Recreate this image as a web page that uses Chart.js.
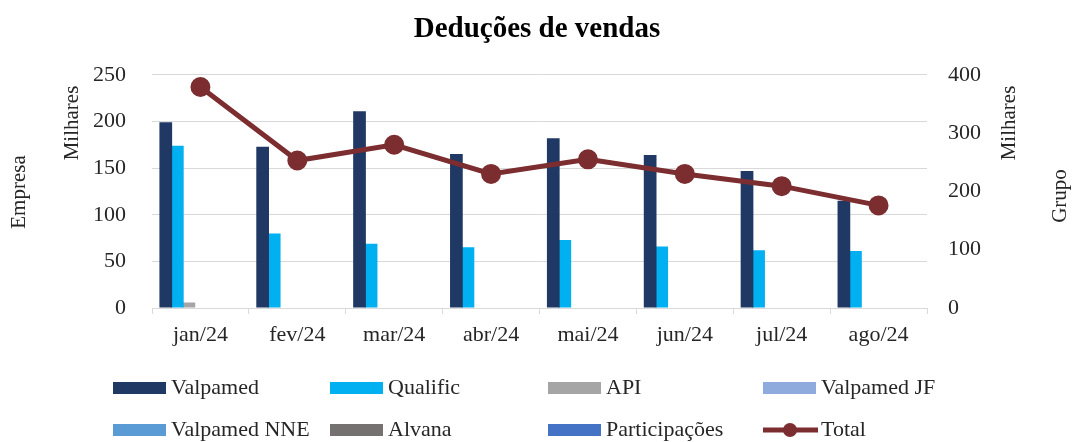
<!DOCTYPE html>
<html>
<head>
<meta charset="utf-8">
<script src="https://cdn.jsdelivr.net/npm/chart.js@4"></script>
<style>
  html, body { margin: 0; padding: 0; background: #fff; }
  #wrap { width: 1074px; height: 442px; }
</style>
</head>
<body>
<div id="wrap"><canvas id="vendasChart" width="1074" height="442"></canvas></div>
<script>
// Data (milhares)
const months = ['jan/24', 'fev/24', 'mar/24', 'abr/24', 'mai/24', 'jun/24', 'jul/24', 'ago/24'];
const valpamed = [199, 173, 211, 165, 182, 164, 147, 115];
const qualific = [174, 80, 69, 65, 73, 66, 62, 61];
const api = [6, 0, 0, 0, 0, 0, 0, 0];
const valpamedJF = [0, 0, 0, 0, 0, 0, 0, 0];
const valpamedNNE = [0, 0, 0, 0, 0, 0, 0, 0];
const alvana = [0, 0, 0, 0, 0, 0, 0, 0];
const participacoes = [0, 0, 0, 0, 0, 0, 0, 0];
const total = [379, 253, 280, 230, 255, 230, 209, 176];
const leftTicks = [0, 50, 100, 150, 200, 250];
const rightTicks = [0, 100, 200, 300, 400];

const serif = "'Liberation Serif', 'DejaVu Serif', serif";
const textColor = '#262626';

function bar(label, data, color) {
    return {
        type: 'bar', label: label, data: data, backgroundColor: color,
        yAxisID: 'y', categoryPercentage: 0.835, barPercentage: 1.1, order: 2
    };
}

// axis titles (two per side) drawn by hand
const axisTitles = {
    id: 'axisTitles',
    afterDraw(chart) {
        const c = chart.ctx;
        const items = [
            ['Empresa', 19, 192], ['Milhares', 72, 123],
            ['Milhares', 1009, 123], ['Grupo', 1060, 196]
        ];
        c.save();
        c.font = '21px ' + serif;
        c.fillStyle = textColor;
        c.textAlign = 'center';
        c.textBaseline = 'middle';
        items.forEach(([t, x, y]) => {
            c.save();
            c.translate(x, y);
            c.rotate(-Math.PI / 2);
            c.fillText(t, 0, 0);
            c.restore();
        });
        c.restore();
    }
};

// legend in a 4-column grid under the chart
const gridLegend = {
    id: 'gridLegend',
    afterDraw(chart) {
        const c = chart.ctx;
        const cols = [113, 330, 548, 763];
        const rows = [388, 430];
        c.save();
        c.font = '22px ' + serif;
        c.textBaseline = 'middle';
        chart.data.datasets.forEach((ds, i) => {
            const x = cols[i % 4];
            const y = rows[Math.floor(i / 4)];
            if (ds.type === 'line') {
                c.strokeStyle = ds.borderColor;
                c.lineWidth = 5;
                c.beginPath();
                c.moveTo(x, y);
                c.lineTo(x + 55, y);
                c.stroke();
                c.fillStyle = ds.borderColor;
                c.beginPath();
                c.arc(x + 27, y, 7, 0, Math.PI * 2);
                c.fill();
            } else {
                c.fillStyle = ds.backgroundColor;
                c.fillRect(x, y - 6, 53, 12);
            }
            c.fillStyle = textColor;
            c.fillText(ds.label, x + 58, y);
        });
        c.restore();
    }
};

const ctx = document.getElementById('vendasChart').getContext('2d');
new Chart(ctx, {
    data: {
        labels: months,
        datasets: [
            bar('Valpamed', valpamed, '#1F3864'),
            bar('Qualific', qualific, '#00B0F0'),
            bar('API', api, '#A5A5A5'),
            bar('Valpamed JF', valpamedJF, '#8FAADC'),
            bar('Valpamed NNE', valpamedNNE, '#5B9BD5'),
            bar('Alvana', alvana, '#767171'),
            bar('Participações', participacoes, '#4472C4'),
            {
                type: 'line', label: 'Total', data: total, yAxisID: 'y1',
                borderColor: '#7B2D2F', backgroundColor: '#7B2D2F',
                borderWidth: 5, pointRadius: 7.5, pointHoverRadius: 7.5,
                tension: 0, order: 1
            }
        ]
    },
    options: {
        responsive: false,
        animation: false,
        layout: { padding: { left: 0, right: 0, bottom: 84 } },
        plugins: {
            legend: { display: false },
            tooltip: { enabled: false },
            title: {
                display: true,
                text: 'Deduções de vendas',
                color: '#000',
                font: { family: serif, size: 29, weight: 'bold', lineHeight: 1.2 },
                padding: { top: 12, bottom: 28 }
            }
        },
        scales: {
            x: {
                offset: true,
                grid: { offset: true, drawOnChartArea: false, drawTicks: true, tickLength: 6, color: '#D9D9D9' },
                border: { color: '#D9D9D9' },
                ticks: { color: textColor, font: { family: serif, size: 22 }, padding: 8, maxRotation: 0 },
                afterFit(scale) { scale.height = 50; }
            },
            y: {
                position: 'left',
                min: 0, max: 250,
                afterBuildTicks(scale) { scale.ticks = leftTicks.map(v => ({ value: v })); },
                grid: { color: '#D9D9D9', drawTicks: false },
                border: { display: false },
                ticks: { color: textColor, font: { family: serif, size: 22 }, padding: 26 },
                afterFit(scale) { scale.width = 152; }
            },
            y1: {
                position: 'right',
                min: 0, max: 400,
                afterBuildTicks(scale) { scale.ticks = rightTicks.map(v => ({ value: v })); },
                grid: { drawOnChartArea: false, drawTicks: false },
                border: { display: false },
                ticks: { color: textColor, font: { family: serif, size: 22 }, padding: 21 },
                afterFit(scale) { scale.width = 147; }
            }
        }
    },
    plugins: [axisTitles, gridLegend]
});
</script>
</body>
</html>
